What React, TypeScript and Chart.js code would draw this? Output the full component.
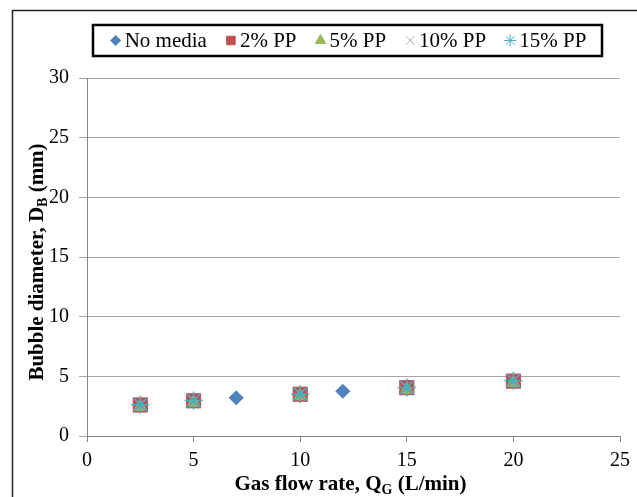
import React, { useEffect, useRef } from 'react';
import { Chart, registerables } from 'chart.js';
import { drawPoint } from 'chart.js/helpers';

Chart.register(...registerables);

const seriesNames = ['No media', '2% PP', '5% PP', '10% PP', '15% PP'];
const seriesColors = ['#4F81BD', '#C0504D', '#9BBB59', '#8064A2', '#4BACC6'];
const seriesStyles = ['rectRot', 'rect', 'triangle', 'crossRot', 'star'];

const noMediaX = [2.5, 5, 7, 10, 12, 15, 20];
const noMediaY = [2.6, 2.95, 3.2, 3.5, 3.75, 4.05, 4.6];
const ppX = [2.5, 5, 10, 15, 20];
const pp2Y = [2.6, 2.95, 3.5, 4.05, 4.6];
const pp5Y = [2.45, 2.8, 3.35, 3.9, 4.45];
const pp10Y = [2.6, 2.95, 3.5, 4.05, 4.6];
const pp15Y = [2.62, 2.97, 3.52, 4.07, 4.62];

const xTitleMain = 'Gas flow rate, Q';
const xTitleSub = 'G';
const xTitleEnd = ' (L/min)';
const yTitleMain = 'Bubble diameter, D';
const yTitleSub = 'B';
const yTitleEnd = ' (mm)';

const SERIF = '"Liberation Serif", "Times New Roman", serif';

const pts = (xs: number[], ys: number[]) => xs.map((x, i) => ({ x, y: ys[i] }));

function drawSubTitle(ctx: CanvasRenderingContext2D, main: string, sub: string, end: string, cx: number, cy: number) {
  const big = 'bold 21px ' + SERIF;
  const small = 'bold 14px ' + SERIF;
  ctx.font = big;
  const w1 = ctx.measureText(main).width;
  const w3 = ctx.measureText(end).width;
  ctx.font = small;
  const w2 = ctx.measureText(sub).width;
  const total = w1 + w2 + w3;
  let x = cx - total / 2;
  ctx.textBaseline = 'alphabetic';
  ctx.textAlign = 'left';
  ctx.fillStyle = '#000';
  ctx.font = big;
  ctx.fillText(main, x, cy);
  x += w1;
  ctx.font = small;
  ctx.fillText(sub, x, cy + 4);
  x += w2;
  ctx.font = big;
  ctx.fillText(end, x, cy);
}

const decorPlugin = {
  id: 'decor',
  beforeDraw(chart: any) {
    const ctx = chart.ctx;
    ctx.save();
    ctx.fillStyle = '#fff';
    ctx.fillRect(0, 0, chart.width, chart.height);
    ctx.strokeStyle = '#222';
    ctx.lineWidth = 1.5;
    ctx.strokeRect(12.5, 10.5, chart.width + 20, chart.height + 20);
    ctx.restore();
  },
  afterDraw(chart: any) {
    const ctx = chart.ctx;
    const ca = chart.chartArea;
    ctx.save();
    // axis titles
    drawSubTitle(ctx, xTitleMain, xTitleSub, xTitleEnd, (ca.left + ca.right) / 2 - 3, 490);
    ctx.save();
    ctx.translate(43, 262);
    ctx.rotate(-Math.PI / 2);
    drawSubTitle(ctx, yTitleMain, yTitleSub, yTitleEnd, 0, 0);
    ctx.restore();

    // legend box
    const bx = 93, by = 25, bw = 509, bh = 31;
    ctx.strokeStyle = '#000';
    ctx.lineWidth = 2.5;
    ctx.strokeRect(bx, by, bw, bh);
    ctx.font = '21px ' + SERIF;
    const symW = 10, gap = 4, itemGap = 19;
    const widths = seriesNames.map((n) => ctx.measureText(n).width);
    const total = widths.reduce((a, b) => a + b, 0) + seriesNames.length * (symW + gap) + (seriesNames.length - 1) * itemGap;
    let x = bx + bw / 2 + 1 - total / 2;
    const cy = by + bh / 2;
    ctx.textBaseline = 'middle';
    ctx.textAlign = 'left';
    seriesNames.forEach((name, i) => {
      const style = seriesStyles[i];
      const r = style === 'rect' ? 6 : style === 'rectRot' ? 5 : 6;
      ctx.fillStyle = seriesColors[i];
      ctx.strokeStyle = i === 3 ? '#B3A2C7' : seriesColors[i];
      ctx.lineWidth = 1;
      drawPoint(ctx, { pointStyle: style, radius: r, rotation: 0, borderWidth: 1 } as any, x + symW / 2, cy);
      ctx.fillStyle = '#000';
      ctx.fillText(name, x + symW + gap, cy + 1);
      x += symW + gap + widths[i] + itemGap;
    });
    ctx.restore();
  },
};

export default function App() {
  const ref = useRef<HTMLCanvasElement>(null);
  useEffect(() => {
    if (!ref.current) return;
    const mk = (i: number, data: any[], radius: number, bw: number) => ({
      label: seriesNames[i],
      data,
      order: 5 - i,
      pointStyle: seriesStyles[i],
      backgroundColor: seriesColors[i],
      borderColor: seriesColors[i],
      pointRadius: radius,
      pointBorderWidth: bw,
      showLine: false,
    });
    const chart = new Chart(ref.current, {
      type: 'scatter',
      data: {
        datasets: [
          mk(0, pts(noMediaX, noMediaY), 7, 1),
          mk(1, pts(ppX, pp2Y), 10, 1),
          mk(2, pts(ppX, pp5Y), 7.5, 1),
          mk(3, pts(ppX, pp10Y), 10, 1.5),
          mk(4, pts(ppX, pp15Y), 9, 1.5),
        ] as any,
      },
      options: {
        animation: false,
        responsive: false,
        devicePixelRatio: 1,
        layout: { padding: { top: 78, right: 15, left: 0, bottom: 0 } },
        plugins: { legend: { display: false }, tooltip: { enabled: false }, title: { display: false } },
        scales: {
          x: {
            type: 'linear',
            min: 0,
            max: 25,
            ticks: { stepSize: 5, color: '#000', font: { family: SERIF, size: 20 }, padding: 7, maxRotation: 0 },
            grid: { drawOnChartArea: false, drawTicks: true, tickLength: 6, color: '#888' },
            border: { color: '#888', width: 1 },
            afterFit: (s: any) => { s.height = 61; },
          },
          y: {
            type: 'linear',
            min: 0,
            max: 30,
            ticks: { stepSize: 5, color: '#000', font: { family: SERIF, size: 20 }, padding: 10 },
            grid: { color: '#A6A6A6', tickLength: 8, drawTicks: true },
            border: { color: '#888', width: 1 },
            afterFit: (s: any) => { s.width = 87; },
          },
        },
      } as any,
      plugins: [decorPlugin],
    });
    return () => chart.destroy();
  }, []);
  return (
    <div style={{ position: 'fixed', left: 0, top: 0, width: 637, height: 497 }}>
      <canvas ref={ref} width={637} height={497} style={{ width: 637, height: 497, display: 'block' }} />
    </div>
  );
}
